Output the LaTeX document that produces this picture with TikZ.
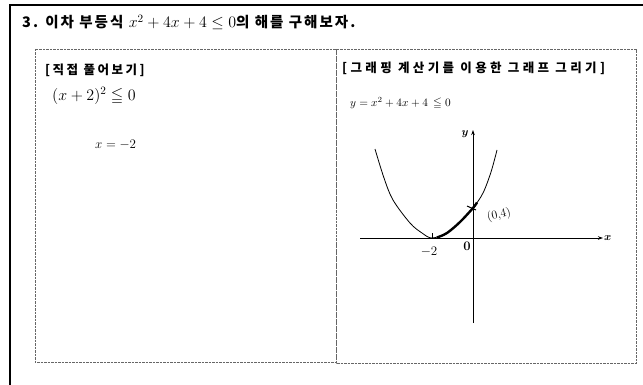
\documentclass[tikz,border=0pt]{standalone}
\usepackage{fix-cm}
\usepackage{amsmath,amssymb}
\usepackage{fontspec}
\newfontfamily\kr[LetterSpace=14]{Noto Sans CJK KR}
\newfontfamily\krh[LetterSpace=20]{Noto Sans CJK KR}
\newfontfamily\krw[LetterSpace=27]{Noto Sans CJK KR}
\usetikzlibrary{arrows.meta}
\begin{document}
\begin{tikzpicture}[x=1pt,y=-1pt,
  frame/.style={line width=1.3pt},
  panel/.style={draw=black!60, dash pattern=on 2.5pt off 1pt, line width=0.6pt},
  ttl/.style={font=\kr\bfseries\fontsize{14.5}{16}\selectfont, anchor=base west, inner sep=0},
  hdr/.style={font=\krh\bfseries\fontsize{12.5}{14}\selectfont, anchor=west, inner sep=0},
  hdrw/.style={font=\krw\bfseries\fontsize{12.5}{14}\selectfont, anchor=west, inner sep=0},
  hand/.style={inner sep=0, anchor=west},
  axis/.style={line width=0.9pt, -{Stealth[length=5pt,width=3.5pt]}},
  curve/.style={line width=0.8pt},
  lbl/.style={inner sep=0, font=\fontsize{13}{15}\selectfont}]
\useasboundingbox (0,0) rectangle (643,385);
% outer frame
\coordinate (ftl) at (10,5);
\coordinate (ftr) at (643,5);
\coordinate (fbl) at (10,385);
\draw[frame] (ftr) -- (ftl) -- (fbl);
% title
\node[ttl] (title) at (22,28) {3. 이차 부등식 {\fontsize{16}{18}\selectfont$x^2+4x+4\leq 0$}의 해를 구해보자.};
% panels
\draw[panel] (35,49) rectangle (336,362);
\draw[panel] (336,49) rectangle (636,363);
% left panel
\node[hdr] (lh) at (45,70) {[직접 풀어보기]};
\node[hand, font=\fontsize{16}{18}\selectfont] (eq1) at (52,96) {$(x+2)^2\leqq 0$};
\node[hand, font=\fontsize{13}{15}\selectfont] (eq2) at (95,145) {$x=-2$};
% right panel
\node[hdrw] (rh) at (342,68) {[그래핑 계산기를 이용한 그래프 그리기]};
\node[hand, font=\fontsize{11.3}{14}\selectfont] (eq3) at (350,103) {$y=x^2+4x+4\,\leqq 0$};
% graph
\coordinate (O) at (473,238);
\coordinate (xl) at (360,238);
\coordinate (xr) at (603,238);
\coordinate (yb) at (473,323);
\coordinate (yt) at (473,130);
\draw[axis] (xl) -- (xr);
\draw[axis] (yb) -- (yt);
\node[lbl, anchor=west, font=\fontsize{11}{13}\selectfont] (xlab) at (604,238) {$\boldsymbol{x}$};
\node[lbl, font=\fontsize{11}{13}\selectfont] (ylab) at (465,134) {$\boldsymbol{y}$};
\draw[curve] plot[smooth, tension=0.55] coordinates {(375,149) (384,178) (393,200) (410,223) (422,233) (432,238) (447,233) (460,222) (473,208) (483,193) (491,172) (497,150)};
\draw[line width=2.4pt] plot[smooth, tension=0.55] coordinates {(437,237.5) (447,233) (460,222) (473,208) (477,202.5)};
\coordinate (tk1) at (432,233);
\coordinate (tk2) at (432,238);
\draw[line width=0.6pt] (tk1) -- (tk2);
\coordinate (pt1) at (467,206);
\coordinate (pt2) at (476,210);
\draw[line width=1pt] (pt1) -- (pt2);
\node[lbl] (m2) at (429,252) {$-2$};
\node[lbl] (zero) at (467,246) {$\boldsymbol{0}$};
\node[lbl, rotate=12, font=\fontsize{12}{14}\selectfont] (p04) at (499,215) {(0,4)};
\end{tikzpicture}
\end{document}
